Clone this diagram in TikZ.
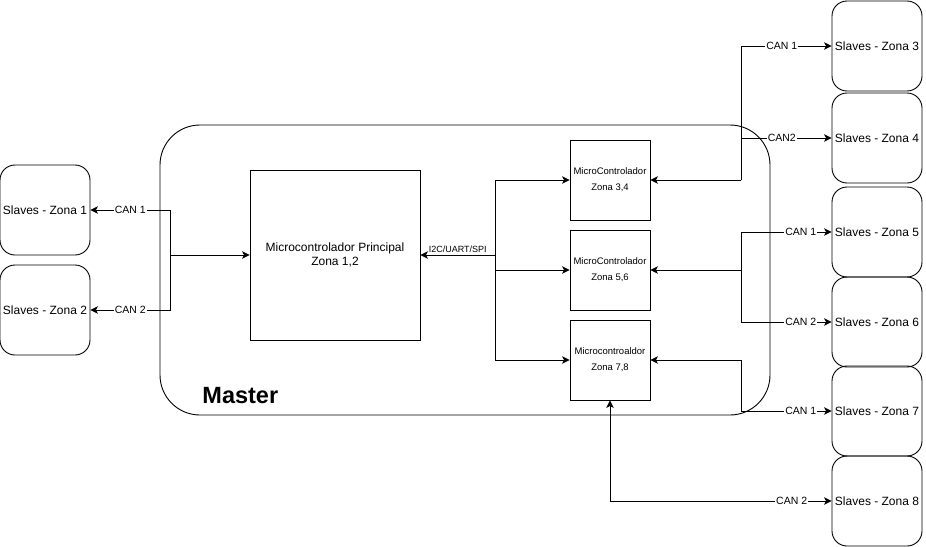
\documentclass[tikz,border=0pt]{standalone}
\usepackage{fontspec}
\setmainfont{Liberation Sans}
\usetikzlibrary{arrows.meta}

\begin{document}
\begin{tikzpicture}[x=1pt,y=-1pt,line width=0.9pt,
    >={Stealth[length=7.5pt,width=7.5pt,inset=2pt]},
    slave/.style={draw,rounded corners=15pt,minimum width=90pt,minimum height=90pt,
        inner sep=0pt,font=\fontsize{12}{14}\selectfont},
    micro/.style={draw,minimum width=80pt,minimum height=80pt,inner sep=0pt,
        align=center,font=\fontsize{9.5}{16}\selectfont},
    can/.style={fill=white,inner sep=1pt,font=\fontsize{10.5}{12}\selectfont}]
            \useasboundingbox (0,0) rectangle (926,546);
            % Master
            \node[draw,rounded corners=40pt,minimum width=610pt,minimum height=290pt] (master) at (465,270) {};
            \node[anchor=base west,inner sep=0pt,font=\bfseries\fontsize{23.5}{28}\selectfont] (mlabel) at (202,403) {Master};
            \node[draw,minimum width=170pt,minimum height=170pt,align=center,
                font=\fontsize{12}{13.5}\selectfont] (prin) at (335,255) {Microcontrolador Principal\\Zona 1,2};
            \node[micro] (m34) at (610,180) {MicroControlador\\Zona 3,4};
            \node[micro] (m56) at (610,270) {MicroControlador\\Zona 5,6};
            \node[micro] (m78) at (610,360) {Microcontroaldor\\Zona 7,8};
            % Slaves
            \foreach \n/\y in {1/210,2/310}
                \node[slave] (s\n) at (45,\y) {Slaves - Zona \n};
            \foreach \n/\y in {3/46,4/138,5/232,6/322,7/411,8/501}
                \node[slave] (s\n) at (877,\y) {Slaves - Zona \n};
            % junctions
            \coordinate (jl) at (170,255);
            \coordinate (jb) at (495,255);
            \coordinate (j34) at (741,180);
            \coordinate (j56) at (741,270);
            \coordinate (j78) at (741,360);
            % left side
            \draw[->] (jl) -- (prin);
            \draw[->] (jl) |- node[can,pos=0.75] {CAN 1} (s1);
            \draw[->] (jl) |- node[can,pos=0.75] {CAN 2} (s2);
            % bus
            \draw[->] (jb) -- node[above,inner sep=1.5pt,font=\fontsize{9}{10}\selectfont] {I2C/UART/SPI} (prin);
            \draw[->] (jb) |- (m34);
            \draw[->] (jb) |- (m56);
            \draw[->] (jb) |- (m78);
            % right side
            \draw[->] (j34) -- (m34);
            \draw[->] (j34) |- node[can,pos=0.725] {CAN 1} (s3);
            \draw[->] (j34) |- node[can,pos=0.725] {CAN2} (s4);
            \draw[->] (j56) -- (m56);
            \draw[->] (j56) |- node[can,pos=0.83] {CAN 1} (s5);
            \draw[->] (j56) |- node[can,pos=0.83] {CAN 2} (s6);
            \draw[<->] (m78) -- (j78) |- node[can,pos=0.83] {CAN 1} (s7);
            \draw[<->] (m78) |- node[can,pos=0.91] {CAN 2} (s8);
\end{tikzpicture}
\end{document}
